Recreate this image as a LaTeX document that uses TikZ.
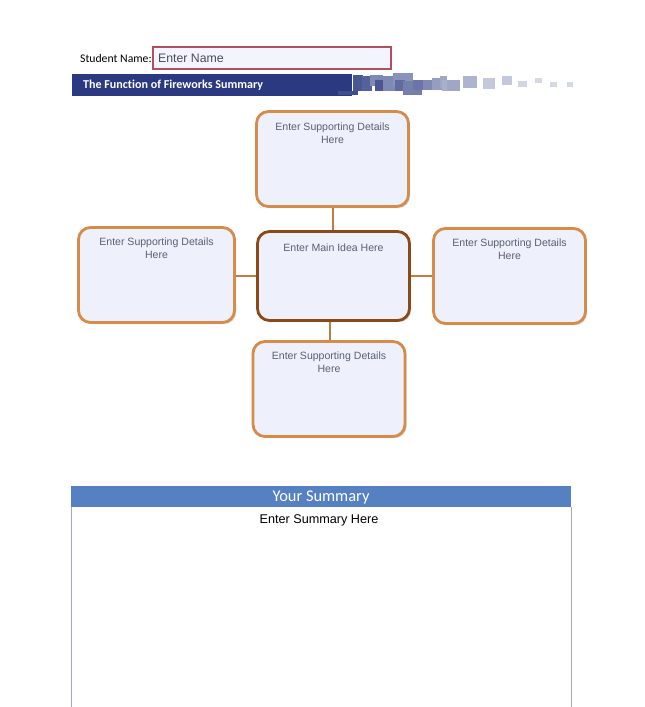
\documentclass[tikz,border=0pt]{standalone}
\usepackage{fontspec}
\setmainfont{Liberation Sans}
\newfontfamily\calibri[Ligatures=NoCommon]{Carlito}
\usetikzlibrary{shadows}

\definecolor{navy}{HTML}{2B3A80}
\definecolor{orangeline}{HTML}{D58B4A}
\definecolor{brownline}{HTML}{8A4A18}
\definecolor{boxfill}{HTML}{EEF1FB}
\definecolor{tagtext}{HTML}{5A5F72}
\definecolor{namered}{HTML}{B0505E}
\definecolor{namefill}{HTML}{F4F4FC}
\definecolor{sumblue}{HTML}{5581C2}
\definecolor{sumline}{HTML}{A3AAB8}

\begin{document}
\begin{tikzpicture}[x=0.3mm,y=-0.3mm,
  detail/.style={draw=orangeline, line width=2.4pt, fill=boxfill, rounded corners=3.6mm,
    minimum width=45.6mm, minimum height=28.5mm,
    drop shadow={shadow xshift=0.5mm, shadow yshift=-0.5mm, opacity=0.3}},
  mainidea/.style={detail, draw=brownline, minimum height=26.7mm},
  tag/.style={font=\fontsize{9}{11}\selectfont, text=tagtext, align=center, inner sep=0pt},
  link/.style={draw=orangeline!90!black, line width=1.7pt}]
\useasboundingbox (0,0) rectangle (644,707);

% header
\node (student) [anchor=west, font=\calibri\fontsize{10}{12}\selectfont] at (76,58) {Student Name:};
\filldraw[fill=namefill, draw=namered, line width=0.9pt] (153,47) rectangle (391,69);
\node (name) [anchor=west, text=tagtext!80!black, font=\fontsize{10.5}{12}\selectfont] at (154,58) {Enter Name};

\fill[navy] (72,74) rectangle (352,96);
\node (title) [anchor=west, text=white, font=\calibri\bfseries\fontsize{10.3}{12}\selectfont] at (79,85) {The Function of Fireworks Summary};

\foreach \x/\y/\w/\h/\p in {330/74/22/17/100, 338/91/20/4/90, 353/75/10/16/85,
    362/76/10/15/80, 370/75/13/11/60, 375/80/10/11/85, 383/76/12/15/60,
    393/73/20/13/55, 395/80/10/11/75, 403/81/19/14/65, 413/80/12/10/70,
    423/80/12/10/60, 432/78/11/12/50, 440/76/7/12/45, 442/80/11/11/40,
    447/80/13/11/45, 463/76/14/12/38, 483/78/12/11/28, 502/76/10/9/28,
    518/81/9/6/22, 535/78/7/5/20, 550/82/7/5/20, 567/82/6/5/20}
    \fill[navy!\p!white] (\x,\y) rectangle ++(\w,\h);

% idea web
\node (top) [detail, label={[tag,anchor=north,yshift=-3.7mm]north:Enter Supporting Details\\Here}] at (332.5,159) {};
\node (left) [detail, minimum width=46.8mm, label={[tag,anchor=north,yshift=-3.6mm]north:Enter Supporting Details\\Here}] at (156.5,275) {};
\node (main) [mainidea, label={[tag,anchor=north,yshift=-4.0mm]north:Enter Main Idea Here}] at (333.5,276) {};
\node (right) [detail, label={[tag,anchor=north,yshift=-3.4mm]north:Enter Supporting Details\\Here}] at (509.5,276) {};
\node (bottom) [detail, label={[tag,anchor=north,yshift=-3.5mm]north:Enter Supporting Details\\Here}] at (329,389) {};

\draw[link] (top.south) -- (top.south |- main.north);
\draw[link] (left.east |- main.west) -- (main.west);
\draw[link] (main.east) -- (right.west |- main.east);
\draw[link] (bottom.north -| 330,0) -- (330,322);

% summary
\fill[sumblue] (71,486) rectangle (571,507);
\node (yoursum) [text=white, font=\calibri\fontsize{14}{16}\selectfont] at (321,497) {Your Summary};
\draw[sumline, line width=0.8pt] (71,507) -- (71,707) (571,507) -- (571,707);
\node (sumtext) [font=\fontsize{10.8}{13}\selectfont] at (319,520) {Enter Summary Here};

\end{tikzpicture}
\end{document}
